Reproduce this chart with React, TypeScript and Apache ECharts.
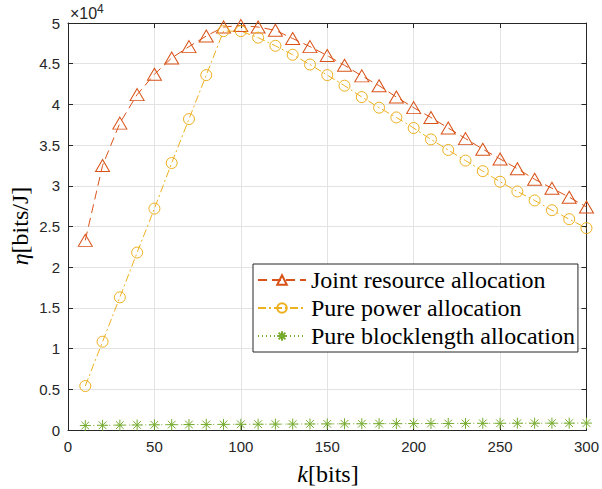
import React, { useEffect, useRef } from "react";
import * as echarts from "echarts";

const kValues = [10, 20, 30, 40, 50, 60, 70, 80, 90, 100, 110, 120, 130, 140, 150, 160, 170, 180, 190, 200, 210, 220, 230, 240, 250, 260, 270, 280, 290, 300];
const jointValues = [2.33, 3.25, 3.77, 4.12, 4.37, 4.57, 4.71, 4.84, 4.95, 4.97, 4.95, 4.91, 4.81, 4.71, 4.6, 4.48, 4.35, 4.23, 4.09, 3.96, 3.84, 3.71, 3.58, 3.45, 3.33, 3.21, 3.08, 2.97, 2.86, 2.74];
const powerValues = [0.54, 1.085, 1.63, 2.18, 2.72, 3.28, 3.82, 4.36, 4.9, 4.9, 4.82, 4.72, 4.61, 4.49, 4.36, 4.23, 4.09, 3.96, 3.84, 3.71, 3.57, 3.44, 3.31, 3.18, 3.05, 2.93, 2.82, 2.7, 2.59, 2.48];
const blockValues = [0.055, 0.058, 0.06, 0.062, 0.064, 0.066, 0.067, 0.068, 0.069, 0.07, 0.071, 0.072, 0.073, 0.074, 0.075, 0.076, 0.077, 0.078, 0.078, 0.079, 0.08, 0.08, 0.081, 0.082, 0.082, 0.083, 0.083, 0.084, 0.084, 0.085];
const seriesNames = ["Joint resource allocation", "Pure power allocation", "Pure blocklength allocation"];

const C_JOINT = "#D95319";
const C_POWER = "#EDB120";
const C_BLOCK = "#77AC30";
const AXIS = "#262626";
const GRID = "#e3e3e3";

const TRI = "path://M0,-1L1,0.8L-1,0.8Z";
const CIRC = "path://M1,0A1,1,0,1,1,-1,0A1,1,0,1,1,1,0Z";
const STAR = "path://M0,-1L0,1M-1,0L1,0M-0.7,-0.7L0.7,0.7M-0.7,0.7L0.7,-0.7";

export default function App() {
  const ref = useRef<HTMLDivElement>(null);
  useEffect(() => {
    const chart = echarts.init(ref.current!, undefined, { renderer: "svg" });
    const pair = (vals: number[]) => kValues.map((k, i) => [k, vals[i]]);
    const mk = (name: string, vals: number[], color: string, symbol: string, size: any, dash: any) => ({
      name,
      type: "line",
      data: pair(vals),
      color,
      symbol,
      symbolSize: size,
      showAllSymbol: true,
      lineStyle: { color, width: 1, type: dash },
      itemStyle: { color: "rgba(0,0,0,0)", borderColor: color, borderWidth: 1 },
      emphasis: { disabled: true },
    });
    const serif = "Liberation Serif";
    const sans = "Liberation Sans";
    const frameAxis = {
      axisLine: { show: true, onZero: false, lineStyle: { color: AXIS, width: 1 } },
      axisTick: { show: true, inside: true, length: 5, lineStyle: { color: AXIS } },
    };
    chart.setOption({
      animation: false,
      backgroundColor: "#fff",
      grid: { left: 68, right: 14, top: 23, bottom: 59 },
      xAxis: [
        {
          type: "value", min: 0, max: 300, interval: 50, ...frameAxis,
          axisLabel: { color: AXIS, fontSize: 15, fontFamily: sans, margin: 9 },
          splitLine: { show: true, lineStyle: { color: GRID, width: 1 } },
        },
        {
          type: "value", min: 0, max: 300, interval: 50, position: "top", ...frameAxis,
          axisLabel: { show: false }, splitLine: { show: false },
        },
      ],
      yAxis: [
        {
          type: "value", min: 0, max: 5, interval: 0.5, ...frameAxis,
          axisLabel: { color: AXIS, fontSize: 15, fontFamily: sans, margin: 8, formatter: (v: number) => String(Math.round(v * 10) / 10) },
          splitLine: { show: true, lineStyle: { color: GRID, width: 1 } },
        },
        {
          type: "value", min: 0, max: 5, interval: 0.5, position: "right", ...frameAxis,
          axisLabel: { show: false }, splitLine: { show: false },
        },
      ],
      legend: {
        orient: "vertical",
        left: 253,
        top: 264,
        data: seriesNames,
        itemWidth: 48,
        itemHeight: 12,
        itemGap: 0,
        padding: [2, 3, 2, 4],
        backgroundColor: "#fff",
        borderColor: AXIS,
        borderWidth: 1,
        borderRadius: 0,
        textStyle: { fontFamily: serif, fontSize: 24, lineHeight: 28, color: "#000" },
        selectedMode: false,
      },
      graphic: [
        {
          type: "text", x: 70, y: 21,
          style: { text: "×10", fontFamily: sans, fontSize: 16, fill: AXIS, verticalAlign: "bottom", align: "left" },
        },
        {
          type: "text", x: 97, y: 3,
          style: { text: "4", fontFamily: sans, fontSize: 12, fill: AXIS, verticalAlign: "top", align: "left" },
        },
        {
          type: "text", x: 328, y: 474,
          style: {
            text: "{i|k}{r|[bits]}",
            align: "center", verticalAlign: "middle",
            rich: {
              i: { fontFamily: serif, fontStyle: "italic", fontSize: 24, fill: "#000" },
              r: { fontFamily: serif, fontSize: 24, fill: "#000" },
            },
          },
        },
        {
          type: "text", x: 20, y: 226, rotation: Math.PI / 2,
          style: {
            text: "{i|η}{r|[bits/J]}",
            align: "center", verticalAlign: "middle",
            rich: {
              i: { fontFamily: serif, fontStyle: "italic", fontSize: 24, fill: "#000" },
              r: { fontFamily: serif, fontSize: 24, fill: "#000" },
            },
          },
        },
      ],
      series: [
        mk(seriesNames[0], jointValues, C_JOINT, TRI, [14, 12], [9, 5]),
        mk(seriesNames[1], powerValues, C_POWER, CIRC, 11, [8, 3, 2, 3]),
        mk(seriesNames[2], blockValues, C_BLOCK, STAR, 11, [1, 3]),
      ],
    });
    return () => chart.dispose();
  }, []);
  return <div ref={ref} style={{ position: "absolute", left: 0, top: 0, width: 602, height: 489 }} />;
}
